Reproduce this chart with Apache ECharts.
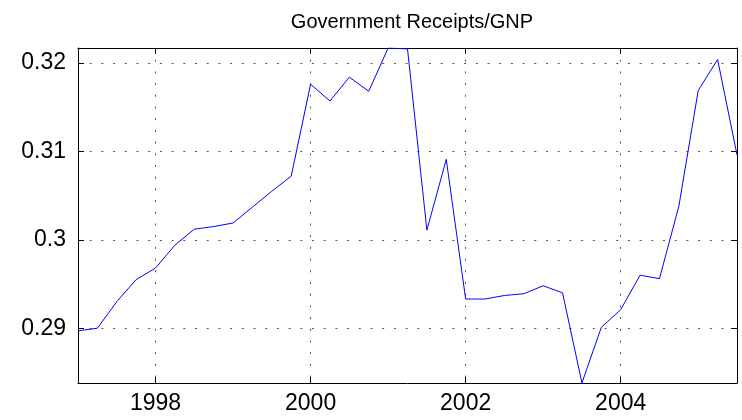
<!DOCTYPE html>
<html>
<head>
<meta charset="utf-8">
<script src="https://cdn.jsdelivr.net/npm/echarts@6/dist/echarts.min.js"></script>
<style>
  html, body { margin: 0; padding: 0; background: #fff; }
  #chart { width: 742px; height: 420px; }
</style>
</head>
<body>
<div id="chart"></div>
<script>
  // quarterly observations, 1997Q1 .. 2005Q3
  var years = [
    1997.0, 1997.25, 1997.5, 1997.75, 1998.0, 1998.25, 1998.5, 1998.75,
    1999.0, 1999.25, 1999.5, 1999.75, 2000.0, 2000.25, 2000.5, 2000.75,
    2001.0, 2001.25, 2001.5, 2001.75, 2002.0, 2002.25, 2002.5, 2002.75,
    2003.0, 2003.25, 2003.5, 2003.75, 2004.0, 2004.25, 2004.5, 2004.75,
    2005.0, 2005.25, 2005.5
  ]
  var receiptsGnp = [
    0.2897, 0.2900, 0.2930, 0.2955, 0.2968, 0.2994, 0.3012, 0.3015,
    0.3019, 0.3037, 0.3055, 0.3072, 0.3176, 0.3157, 0.3184, 0.3168,
    0.3217, 0.3216, 0.3011, 0.3091, 0.2933, 0.2933, 0.2937, 0.2939,
    0.2948, 0.2940, 0.2838, 0.2901, 0.2921, 0.2960, 0.2956, 0.3038,
    0.3169, 0.3204, 0.3096
  ]
  var xTicks = [1998, 2000, 2002, 2004]
  var yTicks = [0.29, 0.30, 0.31, 0.32]

  var font = 'Liberation Sans, Arial, Helvetica, sans-serif'
  var dotted = {
    show: true,
    lineStyle: { color: '#555', width: 1, type: [2, 9.7] }
  }

  function xAxisDef(main) {
    return {
      type: 'value',
      position: main ? 'bottom' : 'top',
      min: 1997,
      max: 2005.5,
      axisLine: { show: true, onZero: false, lineStyle: { color: '#000', width: 1 } },
      axisTick: { show: true, inside: true, length: 6, customValues: xTicks, lineStyle: { color: '#000' } },
      axisLabel: {
        show: main,
        customValues: xTicks,
        margin: 9,
        color: '#000',
        fontFamily: font,
        fontSize: 23,
        formatter: function (v) { return String(Math.round(v)) }
      },
      splitLine: main ? dotted : { show: false }
    }
  }

  function yAxisDef(main) {
    return {
      type: 'value',
      position: main ? 'left' : 'right',
      min: 'dataMin',
      max: 'dataMax',
      axisLine: { show: true, onZero: false, lineStyle: { color: '#000', width: 1 } },
      axisTick: { show: true, inside: true, length: 6, customValues: yTicks, lineStyle: { color: '#000' } },
      axisLabel: {
        show: main,
        customValues: yTicks,
        margin: 12,
        color: '#000',
        fontFamily: font,
        fontSize: 23,
        formatter: function (v) { return String(Math.round(v * 100) / 100) }
      },
      splitLine: main ? dotted : { show: false }
    }
  }

  var chart = echarts.init(document.getElementById('chart'), null, { renderer: 'canvas' })
  chart.setOption({
    animation: false,
    backgroundColor: '#fff',
    title: {
      text: 'Government Receipts/GNP',
      left: 407,
      top: 7,
      textAlign: 'center',
      textStyle: { color: '#000', fontWeight: 'normal', fontFamily: font, fontSize: 20 }
    },
    grid: { left: 78, right: 5, top: 48, bottom: 37, containLabel: false },
    xAxis: [xAxisDef(true), xAxisDef(false)],
    yAxis: [yAxisDef(true), yAxisDef(false)],
    series: [{
      type: 'line',
      data: years.map(function (y, i) { return [y, receiptsGnp[i]] }),
      showSymbol: false,
      lineStyle: { color: '#0000ff', width: 1 },
      clip: true
    }, {
      // second pair of axes only mirrors the box / ticks
      type: 'line',
      xAxisIndex: 1,
      yAxisIndex: 1,
      data: [[1997, 0.2838], [2005.5, 0.3217]],
      lineStyle: { opacity: 0 },
      showSymbol: false,
      silent: true
    }]
  })
</script>
</body>
</html>
